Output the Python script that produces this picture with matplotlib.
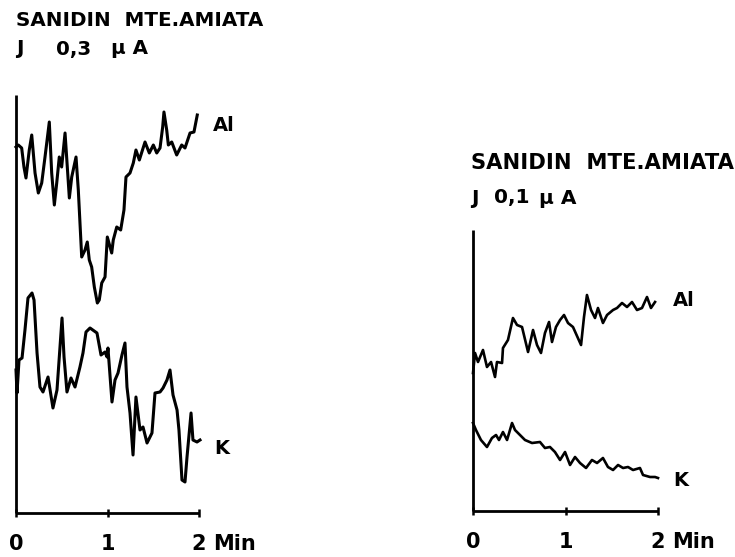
import matplotlib
matplotlib.use("Agg")
import matplotlib.pyplot as plt

# ---------------- data (time in min, intensity in arbitrary units) ----------------
# Left panel: J 0,3 uA
t_al_left = [0.00, 0.025, 0.062, 0.087, 0.109, 0.145, 0.172, 0.208, 0.244, 0.281,
             0.317, 0.364, 0.390, 0.419, 0.445, 0.473, 0.499, 0.536, 0.565, 0.583,
             0.609, 0.656, 0.681, 0.718, 0.754, 0.779, 0.801, 0.827, 0.856, 0.889,
             0.910, 0.937, 0.973, 0.998, 1.046, 1.063, 1.101, 1.144, 1.180, 1.202,
             1.246, 1.282, 1.311, 1.348, 1.410, 1.457, 1.501, 1.538, 1.574, 1.603,
             1.617, 1.647, 1.665, 1.702, 1.756, 1.811, 1.847, 1.902, 1.945, 1.981]
al_left = [3.66, 3.68, 3.65, 3.46, 3.35, 3.63, 3.78, 3.40, 3.20, 3.30,
           3.56, 3.91, 3.40, 3.08, 3.30, 3.56, 3.46, 3.80, 3.40, 3.15,
           3.36, 3.56, 3.23, 2.56, 2.63, 2.71, 2.53, 2.46, 2.26, 2.10,
           2.13, 2.30, 2.36, 2.76, 2.60, 2.73, 2.86, 2.83, 3.03, 3.36,
           3.40, 3.50, 3.63, 3.53, 3.71, 3.60, 3.68, 3.60, 3.65, 3.86,
           4.01, 3.83, 3.68, 3.71, 3.58, 3.68, 3.65, 3.80, 3.81, 3.98]

t_k_left = [0.00, 0.011, 0.033, 0.066, 0.098, 0.131, 0.175, 0.197, 0.230, 0.262,
            0.295, 0.350, 0.404, 0.448, 0.503, 0.525, 0.557, 0.601, 0.645, 0.699,
            0.732, 0.765, 0.809, 0.885, 0.929, 0.973, 0.995, 1.005, 1.049, 1.082,
            1.115, 1.158, 1.191, 1.213, 1.246, 1.279, 1.311, 1.355, 1.388, 1.432,
            1.486, 1.519, 1.574, 1.607, 1.650, 1.683, 1.716, 1.760, 1.781, 1.814,
            1.847, 1.869, 1.913, 1.934, 1.978, 2.011]
k_left = [1.43, 1.20, 1.53, 1.55, 1.83, 2.15, 2.20, 2.13, 1.60, 1.26,
          1.21, 1.36, 1.05, 1.23, 1.95, 1.56, 1.21, 1.35, 1.26, 1.46,
          1.60, 1.81, 1.85, 1.80, 1.58, 1.61, 1.56, 1.65, 1.11, 1.33,
          1.40, 1.58, 1.70, 1.26, 1.00, 0.58, 1.16, 0.83, 0.86, 0.70,
          0.80, 1.20, 1.21, 1.25, 1.33, 1.43, 1.18, 1.03, 0.83, 0.33,
          0.31, 0.56, 1.00, 0.73, 0.71, 0.73]

# Right panel: J 0,1 uA
t_al_right = [0.000, 0.022, 0.054, 0.108, 0.151, 0.195, 0.238, 0.259, 0.314, 0.324,
              0.378, 0.432, 0.476, 0.530, 0.595, 0.649, 0.692, 0.735, 0.778, 0.822,
              0.854, 0.897, 0.941, 0.984, 1.027, 1.081, 1.168, 1.200, 1.232, 1.276,
              1.319, 1.351, 1.405, 1.449, 1.514, 1.557, 1.611, 1.665, 1.719, 1.773,
              1.827, 1.881, 1.924, 1.968]
al_right = [1.38, 1.58, 1.49, 1.61, 1.44, 1.49, 1.34, 1.49, 1.48, 1.63,
            1.71, 1.93, 1.86, 1.84, 1.59, 1.81, 1.66, 1.58, 1.78, 1.89,
            1.69, 1.84, 1.91, 1.96, 1.88, 1.84, 1.66, 1.94, 2.16, 2.01,
            1.93, 2.03, 1.88, 1.96, 2.01, 2.03, 2.08, 2.04, 2.09, 2.01,
            2.03, 2.14, 2.03, 2.09]

t_k_right = [0.000, 0.032, 0.086, 0.151, 0.205, 0.249, 0.281, 0.324, 0.368, 0.422,
             0.454, 0.508, 0.562, 0.638, 0.724, 0.778, 0.832, 0.886, 0.941, 0.995,
             1.049, 1.103, 1.157, 1.222, 1.286, 1.341, 1.405, 1.459, 1.514, 1.568,
             1.622, 1.676, 1.730, 1.805, 1.838, 1.914, 1.968, 2.000]
k_right = [0.88, 0.81, 0.71, 0.64, 0.73, 0.76, 0.71, 0.79, 0.71, 0.88,
           0.81, 0.76, 0.71, 0.68, 0.69, 0.63, 0.64, 0.59, 0.51, 0.59,
           0.46, 0.54, 0.48, 0.43, 0.51, 0.48, 0.53, 0.44, 0.41, 0.46,
           0.43, 0.44, 0.41, 0.43, 0.36, 0.34, 0.34, 0.33]

x_ticks = [0, 1, 2]
x_ticklabels = ["0", "1", "2"]
x_unit = "Min"
title_line = "SANIDIN  MTE.AMIATA"
current_left = ["J", "0,3", "µ A"]
current_right = ["J", "0,1", "µ A"]
series_labels = ["Al", "K"]

# ---------------- figure ----------------
W, H = 735, 557
plt.rcParams['font.family'] = ['DejaVu Sans']
plt.rcParams['font.weight'] = 'bold'
fig = plt.figure(figsize=(W / 100, H / 100), dpi=100)


def px_rect(x0, x1, ytop, ybot):
    return [x0 / W, (H - ybot) / H, (x1 - x0) / W, (ybot - ytop) / H]


axL = fig.add_axes(px_rect(16, 199, 95, 513))
axR = fig.add_axes(px_rect(473, 658, 230, 511))

TICK_FS = 15
PAD = 12
for ax, ytop in ((axL, 4.18), (axR, 2.81)):
    ax.set_xlim(0, 2)
    ax.set_ylim(0, ytop)
    for s in ("top", "right"):
        ax.spines[s].set_visible(False)
    for s in ("left", "bottom"):
        ax.spines[s].set_linewidth(2.0)
        ax.spines[s].set_capstyle("butt")
    ax.set_yticks([])
    ax.set_xticks(x_ticks)
    ax.set_xticklabels(x_ticklabels, fontsize=TICK_FS, fontweight="bold")
    ax.tick_params(axis="x", direction="inout", length=6, width=1.8, pad=PAD)
    ax.patch.set_alpha(0)
    # unit next to the last tick label, aligned with tick labels
    ax.annotate(x_unit, xy=(2, 0), xycoords=("data", "axes fraction"),
                xytext=(10, -(3 + PAD)), textcoords="offset points",
                ha="left", va="top", fontsize=TICK_FS, fontweight="bold",
                annotation_clip=False)

axL.plot(t_al_left, al_left, color="black", lw=2.2, solid_joinstyle="round", clip_on=False)
axL.plot(t_k_left, k_left, color="black", lw=2.2, solid_joinstyle="round", clip_on=False)
axR.plot(t_al_right, al_right, color="black", lw=1.9, solid_joinstyle="round", clip_on=False)
axR.plot(t_k_right, k_right, color="black", lw=1.9, solid_joinstyle="round", clip_on=False)

# series labels
axL.text(2.15, 3.87, series_labels[0], fontsize=14, va="center", ha="left")
axL.text(2.17, 0.65, series_labels[1], fontsize=14, va="center", ha="left")
axR.text(2.16, 2.11, series_labels[0], fontsize=14, va="center", ha="left")
axR.text(2.16, 0.31, series_labels[1], fontsize=14, va="center", ha="left")


def fig_px(x, y):
    return x / W, 1 - y / H


# titles
fig.text(*fig_px(16, 21), title_line, fontsize=14.3, va="center", ha="left")
fig.text(*fig_px(16, 49), current_left[0], fontsize=14.3, va="center", ha="left")
fig.text(*fig_px(56, 49), current_left[1], fontsize=14.3, va="center", ha="left")
fig.text(*fig_px(111, 49), current_left[2], fontsize=14.3, va="center", ha="left")

fig.text(*fig_px(471, 163), title_line, fontsize=15.2, va="center", ha="left")
fig.text(*fig_px(471, 198), current_right[0], fontsize=14.5, va="center", ha="left")
fig.text(*fig_px(494, 198), current_right[1], fontsize=14.5, va="center", ha="left")
fig.text(*fig_px(539, 198), current_right[2], fontsize=14.5, va="center", ha="left")

fig.savefig("out.png", dpi=100)
